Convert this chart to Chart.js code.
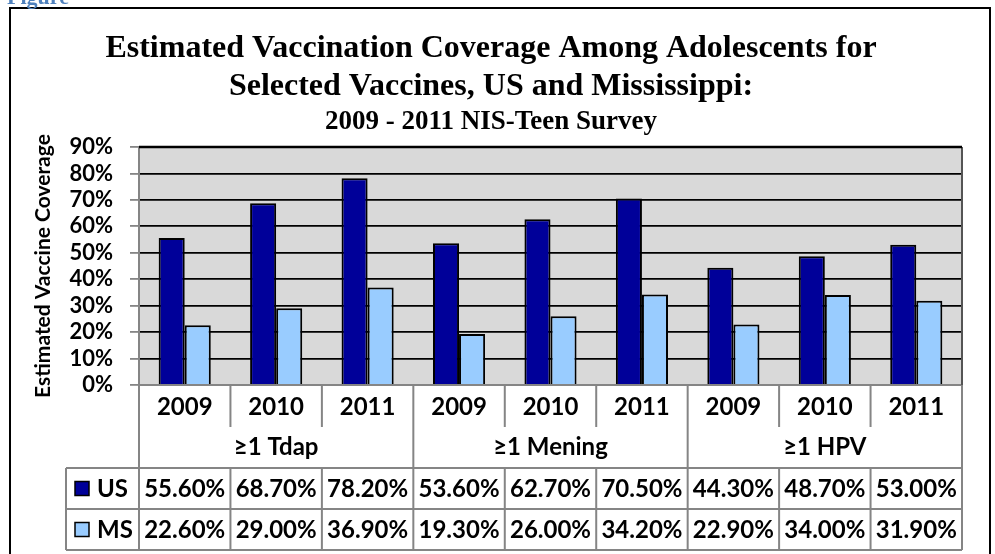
<!DOCTYPE html>
<html lang="en">
<head>
  <meta charset="UTF-8">
  <title>Vaccination Coverage</title>
  <script src="https://cdn.jsdelivr.net/npm/chart.js"></script>
  <style>
    html, body { margin: 0; padding: 0; background: #fff; }
    #wrap { width: 995px; height: 554px; position: relative; }
  </style>
</head>
<body>
  <div id="wrap"><canvas id="coverageChart"></canvas></div>

  <script>
    // chart data
    const years = ['2009', '2010', '2011', '2009', '2010', '2011', '2009', '2010', '2011'];
    const groups = ['\u22651 Tdap', '\u22651 Mening', '\u22651 HPV'];
    const usValues = [55.6, 68.7, 78.2, 53.6, 62.7, 70.5, 44.3, 48.7, 53.0];
    const msValues = [22.6, 29.0, 36.9, 19.3, 26.0, 34.2, 22.9, 34.0, 31.9];
    const yTicks = [0, 10, 20, 30, 40, 50, 60, 70, 80, 90];

    const sans = 'Lato, "Open Sans", sans-serif';
    const serif = '"Liberation Serif", "Times New Roman", serif';
    const usColor = '#000099';
    const msColor = '#99CCFF';
    const lineGray = '#858585';

    // gray plot background + outer frame + "Figure" caption
    const backdrop = {
      id: 'backdrop',
      beforeDraw(chart) {
        const { ctx, chartArea: a } = chart;
        ctx.save();
        ctx.fillStyle = '#D9D9D9';
        ctx.fillRect(a.left, a.top, a.right - a.left, a.bottom - a.top);
        ctx.restore();
      },
      afterDraw(chart) {
        const { ctx, chartArea: a } = chart;
        ctx.save();
        // plot right edge and top edge
        ctx.strokeStyle = '#555';
        ctx.lineWidth = 2;
        ctx.beginPath();
        ctx.moveTo(a.right, a.top);
        ctx.lineTo(a.right, a.bottom);
        ctx.stroke();
        ctx.strokeStyle = '#000';
        ctx.lineWidth = 2.5;
        ctx.beginPath();
        ctx.moveTo(a.left, a.top);
        ctx.lineTo(a.right, a.top);
        ctx.stroke();
        // outer frame
        ctx.lineWidth = 2;
        ctx.strokeRect(10, 8, 980, 560);
        // caption cut at the top
        ctx.fillStyle = '#4F81BD';
        ctx.font = 'bold 22px ' + serif;
        ctx.textBaseline = 'alphabetic';
        ctx.fillText('Figure', 7, 4);
        ctx.restore();
      }
    };

    // data table under the category axis
    const dataTable = {
      id: 'dataTable',
      afterDraw(chart) {
        const { ctx, chartArea: a } = chart;
        const xs = chart.scales.x;
        const n = years.length;
        const half = (xs.getPixelForValue(1) - xs.getPixelForValue(0)) / 2;
        const edge = i => xs.getPixelForValue(i) - half;
        const y0 = a.bottom;
        const yYear = y0 + 42;
        const yGroup = y0 + 83;
        const yUs = y0 + 124;
        const yMs = y0 + 165;
        const tableLeft = 66;

        ctx.save();
        ctx.strokeStyle = lineGray;
        ctx.lineWidth = 2;
        ctx.beginPath();
        // vertical lines
        for (let i = 0; i <= n; i++) {
          const x = edge(i);
          const full = i % 3 === 0;
          ctx.moveTo(x, y0);
          ctx.lineTo(x, full ? yMs : yYear);
          if (!full) {
            ctx.moveTo(x, yGroup);
            ctx.lineTo(x, yMs);
          }
        }
        ctx.moveTo(tableLeft, yGroup);
        ctx.lineTo(tableLeft, yMs);
        // horizontal lines
        [yGroup, yUs, yMs].forEach(y => {
          ctx.moveTo(tableLeft, y);
          ctx.lineTo(edge(n), y);
        });
        ctx.stroke();

        ctx.fillStyle = '#000';
        ctx.textAlign = 'center';
        ctx.textBaseline = 'middle';
        ctx.font = 'bold 24px ' + sans;
        groups.forEach((g, k) => {
          const cx = (edge(k * 3) + edge(k * 3 + 3)) / 2;
          ctx.fillText(g, cx, (yYear + yGroup) / 2);
        });
        const rows = [
          { name: 'US', values: usValues, color: usColor, top: yGroup, bottom: yUs },
          { name: 'MS', values: msValues, color: msColor, top: yUs, bottom: yMs }
        ];
        rows.forEach(r => {
          const cy = (r.top + r.bottom) / 2;
          ctx.textAlign = 'center';
          r.values.forEach((v, i) => {
            ctx.fillText(v.toFixed(2) + '%', xs.getPixelForValue(i), cy + 1);
          });
          // legend key
          ctx.fillStyle = r.color;
          ctx.fillRect(tableLeft + 9, cy - 7, 14, 14);
          ctx.strokeStyle = '#000';
          ctx.lineWidth = 1.5;
          ctx.strokeRect(tableLeft + 9, cy - 7, 14, 14);
          ctx.fillStyle = '#000';
          ctx.textAlign = 'left';
          ctx.fillText(r.name, tableLeft + 31, cy + 1);
        });
        ctx.restore();
      }
    };

    const ctx = document.getElementById('coverageChart').getContext('2d');
    new Chart(ctx, {
      type: 'bar',
      data: {
        labels: years,
        datasets: [
          { label: 'US', data: usValues, backgroundColor: usColor, borderColor: '#000', borderWidth: 2 },
          { label: 'MS', data: msValues, backgroundColor: msColor, borderColor: '#000', borderWidth: 2 }
        ]
      },
      options: {
        responsive: true,
        maintainAspectRatio: false,
        animation: false,
        datasets: { bar: { categoryPercentage: 0.57, barPercentage: 1.0 } },
        layout: { padding: { left: 20, right: 33, top: 0, bottom: 4 } },
        plugins: {
          legend: { display: false },
          tooltip: { enabled: false },
          title: {
            display: true,
            text: ['Estimated Vaccination Coverage Among Adolescents for', 'Selected Vaccines, US and Mississippi:'],
            color: '#000',
            font: { family: serif, size: 32, weight: 'bold', lineHeight: 1.1875 },
            padding: { top: 29.5, bottom: 0 }
          },
          subtitle: {
            display: true,
            text: '2009 - 2011 NIS-Teen Survey',
            color: '#000',
            font: { family: serif, size: 27, weight: 'bold', lineHeight: 1.2 },
            padding: { top: 0, bottom: 9.1 }
          }
        },
        scales: {
          x: {
            afterFit: s => { s.height = 165; },
            grid: { display: false, drawTicks: false },
            border: { display: true, color: lineGray, width: 2 },
            ticks: { color: '#000', padding: 8, font: { family: sans, size: 24, weight: 'bold' }, maxRotation: 0 }
          },
          y: {
            min: 0,
            max: 90,
            afterFit: s => { s.width = 119; },
            afterBuildTicks: s => { s.ticks = yTicks.map(v => ({ value: v })); },
            grid: { color: '#000', lineWidth: 1.8, tickColor: lineGray, tickLength: 9, drawTicks: true },
            border: { display: true, color: lineGray, width: 2 },
            ticks: {
              color: '#000',
              padding: 17,
              autoSkip: false,
              font: { family: sans, size: 22, weight: 'bold' },
              callback: v => v + '%'
            },
            title: {
              display: true,
              text: 'Estimated Vaccine Coverage',
              color: '#000',
              font: { family: sans, size: 21, weight: 'bold' },
              padding: { top: 11, bottom: 0 }
            }
          }
        }
      },
      plugins: [backdrop, dataTable]
    });
  </script>
</body>
</html>
